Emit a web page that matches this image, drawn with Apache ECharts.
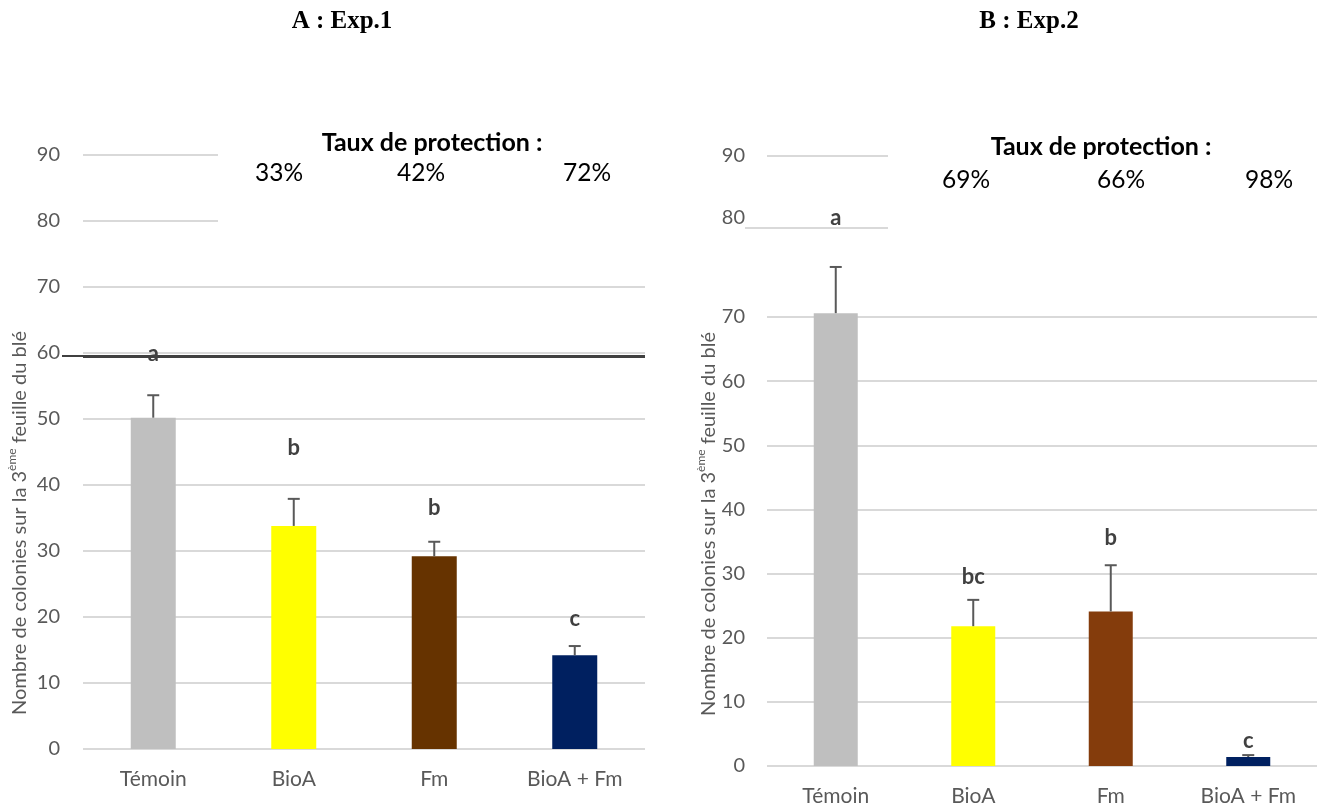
<!DOCTYPE html>
<html>
<head>
<meta charset="utf-8">
<script src="https://cdn.jsdelivr.net/npm/echarts@6/dist/echarts.min.js"></script>
<style>
html, body { margin: 0; background: #fff; }
#chart { width: 1324px; height: 809px; }
</style>
</head>
<body>
<div id="chart"></div>
<script>
var categories = ['Témoin', 'BioA', 'Fm', 'BioA + Fm'];

// Exp.1
var meanA = [50.2, 33.8, 29.2, 14.2];
var errA = [3.4, 4.1, 2.2, 1.4];
var lettersA = ['a', 'b', 'b', 'c'];
var protectA = ['33%', '42%', '72%'];
var lineA = 59.55;

// Exp.2
var meanB = [70.6, 21.8, 24.1, 1.4];
var errB = [7.2, 4.1, 7.2, 0.3];
var lettersB = ['a', 'bc', 'b', 'c'];
var protectB = ['69%', '66%', '98%'];
var upperTicksB = [80, 90];

var colorsA = ['#BFBFBF', '#FFFF00', '#663300', '#002060'];
var colorsB = ['#BFBFBF', '#FFFF00', '#843C0C', '#002060'];

var FONT = 'Lato, "Noto Sans", sans-serif';
var grey = '#595959';
var gridCol = '#D9D9D9';

// px between error bar top and letter centre
var liftA = [41, 51, 34, 27];
var liftB = [49, 23, 27, 14];

function barData(mean, colors) {
	return mean.map(function (v, i) {
		return { value: v, itemStyle: { color: colors[i] } };
	});
}

function errSeries(idx, mean, err, letters, lift) {
	return {
		type: 'custom',
		xAxisIndex: idx,
		yAxisIndex: idx,
		z: 5,
		clip: false,
		data: mean.map(function (v, i) { return [i, v, v + err[i]]; }),
		renderItem: function (params, api) {
			var i = params.dataIndex;
			var base = api.coord([api.value(0), api.value(1)]);
			var top = api.coord([api.value(0), api.value(2)]);
			var st = { stroke: grey, lineWidth: 2 };
			return {
				type: 'group',
				children: [
					{ type: 'line', shape: { x1: base[0], y1: base[1], x2: top[0], y2: top[1] }, style: st },
					{ type: 'line', shape: { x1: top[0] - 6, y1: top[1], x2: top[0] + 6, y2: top[1] }, style: st },
					{
						type: 'text',
						style: {
							text: letters[i], x: top[0], y: top[1] - lift[i],
							align: 'center', verticalAlign: 'middle',
							font: 'bold 22px ' + FONT, fill: '#404040'
						}
					}
				]
			};
		}
	};
}

function yTitle(x, y) {
	return {
		type: 'text', x: x, y: y, rotation: Math.PI / 2, z: 60,
		style: {
			text: '{n|Nombre de colonies sur la 3}{s|ème}{n| feuille du blé}',
			align: 'center', verticalAlign: 'middle',
			rich: {
				n: { fontFamily: FONT, fontSize: 20, fill: grey, lineHeight: 24, verticalAlign: 'bottom' },
				s: { fontFamily: FONT, fontSize: 12, fill: grey, lineHeight: 24, verticalAlign: 'top' }
			}
		}
	};
}

function txt(s, x, y, font) {
	return {
		type: 'text', x: x, y: y, z: 60,
		style: { text: s, align: 'center', verticalAlign: 'middle', font: font, fill: '#000' }
	};
}

var pctFont = '24.5px ' + FONT;
var headFont = 'bold 25px ' + FONT;
var titleFont = 'bold 25px "Liberation Serif", "Times New Roman", serif';

var option = {
	animation: false,
	backgroundColor: '#fff',
	grid: [
		{ left: 83, width: 562, top: 155, height: 594 },
		{ left: 767, width: 550, top: 317, height: 449 },
		{ left: 767, width: 121, top: 156, height: 72 }
	],
	xAxis: [0, 1].map(function (g) {
		return {
			type: 'category', gridIndex: g, data: categories,
			axisLine: { show: false }, axisTick: { show: false },
			axisLabel: { color: grey, fontFamily: FONT, fontSize: 21, margin: 20 }
		};
	}).concat([{ type: 'category', gridIndex: 2, data: [''], show: false }]),
	yAxis: [
		{
			type: 'value', gridIndex: 0, min: 0, max: 90, interval: 10,
			axisLine: { show: false }, axisTick: { show: false },
			axisLabel: { color: grey, fontFamily: FONT, fontSize: 20, margin: 23 },
			splitLine: { lineStyle: { color: gridCol, width: 2 } }
		},
		{
			type: 'value', gridIndex: 1, min: 0, max: 70, interval: 10,
			axisLine: { show: false }, axisTick: { show: false },
			axisLabel: { color: grey, fontFamily: FONT, fontSize: 20, margin: 22 },
			splitLine: { lineStyle: { color: gridCol, width: 2 } }
		},
		{
			type: 'value', gridIndex: 2, min: upperTicksB[0], max: upperTicksB[1], interval: 10,
			axisLine: { show: false }, axisTick: { show: false },
			axisLabel: {
				color: grey, fontFamily: FONT, fontSize: 20, margin: 22,
				formatter: function (v) { return v === upperTicksB[0] ? '{up|' + v + '}' : '' + v; },
				rich: { up: { color: grey, fontFamily: FONT, fontSize: 20, padding: [0, 0, 20, 0] } }
			},
			splitLine: { lineStyle: { color: gridCol, width: 2 } }
		}
	],
	series: [
		{
			type: 'bar', xAxisIndex: 0, yAxisIndex: 0, barWidth: 45,
			data: barData(meanA, colorsA),
			markLine: {
				silent: true, symbol: 'none', label: { show: false },
				lineStyle: { color: '#404040', width: 3, type: 'solid' },
				data: [{ yAxis: lineA }]
			}
		},
		errSeries(0, meanA, errA, lettersA, liftA),
		{
			type: 'bar', xAxisIndex: 1, yAxisIndex: 1, barWidth: 44, clip: false,
			data: barData(meanB, colorsB)
		},
		errSeries(1, meanB, errB, lettersB, liftB)
	],
	graphic: [
		// text box hiding the top gridlines in Exp.1
		{ type: 'rect', z: 40, shape: { x: 218, y: 140, width: 432, height: 92 }, style: { fill: '#fff' } },
		{ type: 'line', z: 41, shape: { x1: 62, y1: 356, x2: 84, y2: 356 }, style: { stroke: '#404040', lineWidth: 2 } },
		{ type: 'line', z: 41, shape: { x1: 745, y1: 228, x2: 768, y2: 228 }, style: { stroke: gridCol, lineWidth: 2 } },
		txt('A : Exp.1', 342, 22, titleFont),
		txt('B : Exp.2', 1029, 22, titleFont),
		txt('Taux de protection :', 432, 143, headFont),
		txt(protectA[0], 279, 173, pctFont),
		txt(protectA[1], 421, 173, pctFont),
		txt(protectA[2], 587, 173, pctFont),
		txt('Taux de protection :', 1101, 147, headFont),
		txt(protectB[0], 966, 180, pctFont),
		txt(protectB[1], 1121, 180, pctFont),
		txt(protectB[2], 1269, 180, pctFont),
		yTitle(18, 523),
		yTitle(707, 524)
	]
};

echarts.init(document.getElementById('chart')).setOption(option);
</script>
</body>
</html>
